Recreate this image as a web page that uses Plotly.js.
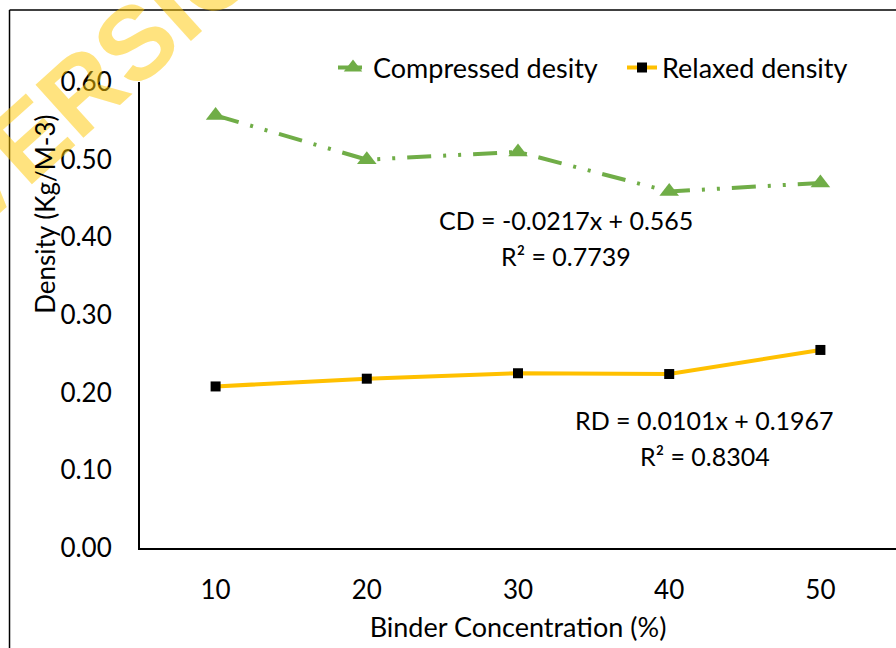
<!DOCTYPE html>
<html>
<head>
<meta charset="utf-8">
<script src="https://cdn.plot.ly/plotly-3.0.1.min.js"></script>
<style>
html,body{margin:0;padding:0;background:#fff;}
#chart{width:896px;height:648px;}
</style>
</head>
<body>
<div id="chart"></div>
<script>
var categories = ["10", "20", "30", "40", "50"];
var compressedDensity = [0.557, 0.500, 0.510, 0.459, 0.470];
var relaxedDensity = [0.208, 0.218, 0.225, 0.224, 0.255];
var yTickVals = [0, 0.1, 0.2, 0.3, 0.4, 0.5, 0.6];
var seriesNames = ["Compressed desity", "Relaxed density"];
var eqCD = ["CD = -0.0217x + 0.565", "R\u00B2 = 0.7739"];
var eqRD = ["RD = 0.0101x + 0.1967", "R\u00B2 = 0.8304"];

var FONT = "Lato, 'Open Sans', sans-serif";
var FS = 26;

function txt(x, y, t, angle, size) {
  return {xref: "paper", yref: "paper", x: x, y: y, text: t, showarrow: false,
          xanchor: "center", yanchor: "middle", textangle: angle || 0,
          font: {family: FONT, size: size || FS, color: "#000"}};
}

var traces = [
  {
    x: categories, y: compressedDensity, name: seriesNames[0],
    type: "scatter", mode: "lines+markers",
    line: {color: "#70AD47", width: 4, dash: "24px,12px,3px,12px,3px,12px"},
    marker: {symbol: "triangle-up", size: 17, color: "#70AD47"}
  },
  {
    x: categories, y: relaxedDensity, name: seriesNames[1],
    type: "scatter", mode: "lines+markers",
    line: {color: "#FFC000", width: 4},
    marker: {symbol: "square", size: 10, color: "#000000"}
  }
];

var layout = {
  width: 896, height: 648,
  margin: {l: 140, r: 0, t: 82, b: 100, pad: 0, autoexpand: false},
  paper_bgcolor: "#ffffff", plot_bgcolor: "#ffffff",
  font: {family: FONT, size: FS, color: "#000"},
  showlegend: true,
  legend: {
    orientation: "h", x: 0.2553, xanchor: "left", y: 1.03, yanchor: "middle",
    font: {family: FONT, size: 27, color: "#000"},
    bgcolor: "rgba(0,0,0,0)", itemwidth: 30, tracegroupgap: 0,
    entrywidth: 244, entrywidthmode: "pixels"
  },
  xaxis: {
    type: "category", range: [-0.5, 4.5],
    showline: true, linecolor: "#000", linewidth: 2,
    showgrid: false, zeroline: false, ticks: "",
    ticklabelstandoff: 18,
    tickfont: {family: FONT, size: FS, color: "#000"},
    title: {text: "Binder Concentration (%)", font: {family: FONT, size: 27, color: "#000"}, standoff: 14}
  },
  yaxis: {
    range: [0, 0.6], tickvals: yTickVals, tickformat: ".2f",
    showline: true, linecolor: "#000", linewidth: 2,
    showgrid: false, zeroline: false, ticks: "",
    ticklabelstandoff: 21,
    tickfont: {family: FONT, size: FS, color: "#000"}
  },
  shapes: [
    {type: "line", xref: "paper", yref: "paper", x0: -0.1726, x1: 1.01, y0: 1.1545, y1: 1.1545, line: {color: "#000", width: 1.5}},
    {type: "line", xref: "paper", yref: "paper", x0: -0.1726, x1: -0.1726, y0: 1.1545, y1: -0.22, line: {color: "#000", width: 1.5}}
  ],
  annotations: [
    {xref: "paper", yref: "paper", x: -0.0198, y: 1.0644, text: "VERSION", showarrow: false, textangle: -42,
     xanchor: "center", yanchor: "middle",
     font: {family: "'Liberation Sans', Arial, sans-serif", size: 104, color: "rgba(255,200,0,0.5)", weight: 700}},
    txt(-0.1257, 0.717, "Density (Kg/M-3)", -90),
    txt(0.5635, 0.704, eqCD[0], 0, 25),
    txt(0.5635, 0.627, eqCD[1], 0, 25),
    txt(0.747, 0.2747, eqRD[0], 0, 25),
    txt(0.747, 0.197, eqRD[1], 0, 25)
  ]
};

Plotly.newPlot("chart", traces, layout, {displayModeBar: false, staticPlot: true});
</script>
</body>
</html>
